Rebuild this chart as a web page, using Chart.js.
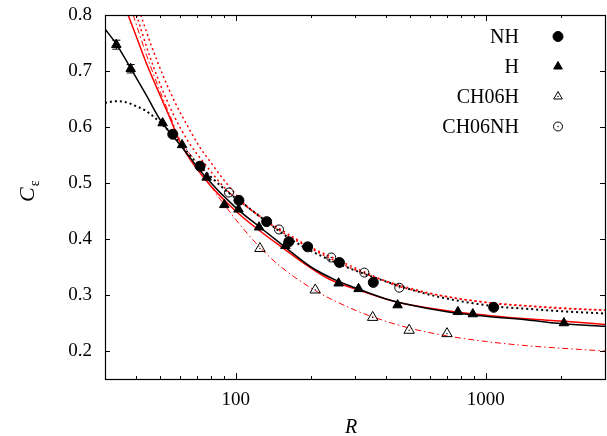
<!DOCTYPE html>
<html><head><meta charset="utf-8">
<script src="https://cdn.jsdelivr.net/npm/chart.js@4/dist/chart.umd.min.js"></script>
<style>
html,body{margin:0;padding:0;background:#fff;overflow:hidden;}
#wrap{width:607px;height:436px;overflow:hidden;position:relative;}
canvas{position:absolute;left:0;top:0;}
.pre{font-family:"Liberation Serif";position:absolute;left:-999px;top:0;}
</style></head><body>
<span class="pre">0.8 NH</span><span class="pre" style="font-style:italic">R C</span>
<div id="wrap"><canvas id="c" width="612" height="436"></canvas></div>
<script>
// ---------- data ----------
const seriesNames = ['NH', 'H', 'CH06H', 'CH06NH'];

const nhR = [56, 72, 103, 133, 163, 194, 260, 355, 1076];
const nhC = [0.587, 0.530, 0.469, 0.431, 0.395, 0.386, 0.358, 0.3225, 0.278];

const hR = [33.3, 38, 51, 61, 76.5, 90, 102.6, 124, 158, 258, 310, 444, 774, 888, 2055];
const hC = [0.747, 0.704, 0.607, 0.568, 0.510, 0.461, 0.453, 0.421, 0.388, 0.321, 0.311, 0.282, 0.270, 0.266, 0.250];
const hErr = [0.008, 0.0075, 0, 0, 0, 0, 0, 0, 0, 0, 0, 0, 0, 0, 0];

const ch06hR = [125, 208, 353, 494, 700];
const ch06hC = [0.383, 0.309, 0.260, 0.237, 0.231];

const ch06nhR = [94, 149, 241, 327, 451];
const ch06nhC = [0.483, 0.417, 0.367, 0.340, 0.313];

// fitted curves
const fitHBlackR = [30, 33.3, 38, 44, 50, 60, 75, 100, 125, 150, 200, 250, 300, 400, 500, 700, 1000, 1500, 2000, 3000];
const fitHBlackC = [0.775, 0.748, 0.705, 0.656, 0.612, 0.568, 0.513, 0.456, 0.421, 0.393, 0.350, 0.327, 0.313, 0.293, 0.282, 0.270, 0.262, 0.255, 0.249, 0.244];

const fitNHBlackR = [30, 33, 36.6, 39.6, 43.3, 47.9, 52, 56, 64, 72, 80, 94, 103, 133, 163, 194, 260, 355, 500, 644, 1076, 1500, 2000, 3000];
const fitNHBlackC = [0.643, 0.646, 0.644, 0.638, 0.630, 0.615, 0.600, 0.587, 0.555, 0.530, 0.510, 0.482, 0.469, 0.431, 0.402, 0.382, 0.355, 0.332, 0.310, 0.297, 0.280, 0.275, 0.271, 0.267];

const fitHRedR = [37.1, 40, 44, 50, 53.6, 61, 75, 100, 150, 235, 300, 444, 700, 1000, 1500, 2000, 3000];
const fitHRedC = [0.800, 0.762, 0.713, 0.655, 0.624, 0.566, 0.508, 0.450, 0.388, 0.329, 0.311, 0.287, 0.272, 0.264, 0.257, 0.2535, 0.2474];

const fitCH06HRedR = [38.9, 44, 50, 55, 60, 70, 80, 100, 125, 150, 208, 300, 353, 494, 700, 1000, 1500, 2000, 3000];
const fitCH06HRedC = [0.800, 0.728, 0.662, 0.617, 0.577, 0.535, 0.493, 0.435, 0.385, 0.352, 0.308, 0.273, 0.261, 0.241, 0.227, 0.217, 0.209, 0.205, 0.200];

const fitNHRedR = [40.1, 45, 50, 56.1, 65, 75, 90, 100, 130, 150, 200, 300, 500, 700, 1000, 2000, 3000];
const fitNHRedC = [0.800, 0.730, 0.675, 0.624, 0.572, 0.535, 0.492, 0.473, 0.435, 0.415, 0.383, 0.345, 0.312, 0.297, 0.287, 0.277, 0.273];

const fitCH06NHRedR = [41.7, 46, 51.4, 57, 63.4, 71.6, 80, 94, 115, 150, 200, 241, 327, 451, 644, 1076, 1500, 2000, 3000];
const fitCH06NHRedC = [0.800, 0.745, 0.690, 0.645, 0.606, 0.565, 0.535, 0.494, 0.452, 0.418, 0.385, 0.368, 0.341, 0.315, 0.300, 0.285, 0.280, 0.276, 0.273];

const xTickValues = [100, 1000];
const xMinorTicks = [40, 50, 60, 70, 80, 90, 200, 300, 400, 500, 600, 700, 800, 900, 2000];
const yTickValues = [0.2, 0.3, 0.4, 0.5, 0.6, 0.7, 0.8];

// ---------- helpers ----------
const pts = (xs, ys) => xs.map((x, i) => ({x: x, y: ys[i]}));
const FONT = '"Liberation Serif", "DejaVu Serif", serif';
const RED = '#ff0000';

function lineDS(xs, ys, color, width, dash) {
  return {type: 'line', data: pts(xs, ys), borderColor: color, borderWidth: width,
    borderDash: dash || [], pointRadius: 0, fill: false, cubicInterpolationMode: 'monotone', order: 2};
}
function markDS(label, xs, ys, style, r, filled) {
  return {type: 'line', label: label, data: pts(xs, ys), showLine: false, pointStyle: style,
    pointRadius: r, pointBorderWidth: 1, pointBackgroundColor: filled ? '#000' : 'rgba(255,255,255,0)',
    pointBorderColor: '#000', order: 1, openMarker: !filled};
}

const datasets = [
  markDS(seriesNames[0], nhR, nhC, 'circle', 5, true),
  markDS(seriesNames[1], hR, hC, 'triangle', 5.5, true),
  markDS(seriesNames[2], ch06hR, ch06hC, 'triangle', 6, false),
  markDS(seriesNames[3], ch06nhR, ch06nhC, 'circle', 4.5, false),
  lineDS(fitHBlackR, fitHBlackC, '#000', 1.5),
  lineDS(fitNHBlackR, fitNHBlackC, '#000', 2, [2, 3]),
  lineDS(fitHRedR, fitHRedC, RED, 1.5),
  lineDS(fitCH06HRedR, fitCH06HRedC, RED, 1, [6, 3, 1.5, 3]),
  lineDS(fitNHRedR, fitNHRedC, RED, 1.5, [2, 3]),
  lineDS(fitCH06NHRedR, fitCH06NHRedC, RED, 1.5, [2, 3])
];

const legendStyles = [
  {style: 'circle', r: 5, filled: true},
  {style: 'triangle', r: 5, filled: true},
  {style: 'triangle', r: 5, filled: false},
  {style: 'circle', r: 4.5, filled: false}
];

const decor = {
  id: 'decor',
  beforeDatasetsDraw(chart) {
    const ctx = chart.ctx, xs = chart.scales.x, ys = chart.scales.y;
    ctx.save();
    ctx.strokeStyle = '#000'; ctx.lineWidth = 1;
    hR.forEach((r, i) => {
      if (!hErr[i]) return;
      const px = xs.getPixelForValue(r);
      const y1 = ys.getPixelForValue(hC[i] - hErr[i]), y2 = ys.getPixelForValue(hC[i] + hErr[i]);
      ctx.beginPath();
      ctx.moveTo(px, y1); ctx.lineTo(px, y2);
      ctx.moveTo(px - 4, y1); ctx.lineTo(px + 4, y1);
      ctx.moveTo(px - 4, y2); ctx.lineTo(px + 4, y2);
      ctx.stroke();
    });
    ctx.restore();
  },
  afterDatasetsDraw(chart) {
    const ctx = chart.ctx, a = chart.chartArea, xs = chart.scales.x, ys = chart.scales.y;
    ctx.save();
    ctx.fillStyle = '#000';
    chart.data.datasets.forEach((ds, i) => {
      if (!ds.openMarker) return;
      chart.getDatasetMeta(i).data.forEach(p => { ctx.fillRect(p.x - 0.6, p.y - 0.6, 1.2, 1.2); });
    });
    ctx.strokeStyle = '#000'; ctx.lineWidth = 1.2;
    ctx.strokeRect(Math.round(a.left) + 0.5, Math.round(a.top) + 0.5, Math.round(a.right - a.left), Math.round(a.bottom - a.top));
    ctx.lineWidth = 1;
    ctx.beginPath();
    yTickValues.forEach(v => {
      const py = Math.round(ys.getPixelForValue(v)) + 0.5;
      ctx.moveTo(a.left, py); ctx.lineTo(a.left + 5, py);
      ctx.moveTo(a.right, py); ctx.lineTo(a.right - 5, py);
    });
    xTickValues.forEach(v => {
      const px = Math.round(xs.getPixelForValue(v)) + 0.5;
      ctx.moveTo(px, a.bottom); ctx.lineTo(px, a.bottom - 6);
      ctx.moveTo(px, a.top); ctx.lineTo(px, a.top + 6);
    });
    xMinorTicks.forEach(v => {
      const px = Math.round(xs.getPixelForValue(v)) + 0.5;
      ctx.moveTo(px, a.bottom); ctx.lineTo(px, a.bottom - 3);
      ctx.moveTo(px, a.top); ctx.lineTo(px, a.top + 3);
    });
    ctx.stroke();
    ctx.restore();
  },
  afterDraw(chart) {
    const ctx = chart.ctx;
    ctx.save();
    ctx.fillStyle = '#000'; ctx.strokeStyle = '#000';
    ctx.font = '20px ' + FONT;
    ctx.textAlign = 'right'; ctx.textBaseline = 'middle';
    seriesNames.forEach((n, i) => {
      const y = 36.5 + 30 * i;
      ctx.fillStyle = '#000';
      ctx.fillText(n, 519, y + 1);
      const st = legendStyles[i];
      ctx.fillStyle = st.filled ? '#000' : 'rgba(255,255,255,0)';
      ctx.lineWidth = 1;
      Chart.helpers.drawPoint(ctx, {pointStyle: st.style, radius: st.r, rotation: 0, borderWidth: 1}, 558, y);
      if (!st.filled) { ctx.fillStyle = '#000'; ctx.fillRect(557.4, y - 0.6, 1.2, 1.2); }
    });
    ctx.fillStyle = '#000';
    ctx.font = 'italic 20px ' + FONT;
    ctx.textAlign = 'center'; ctx.textBaseline = 'alphabetic';
    ctx.fillText('R', 351, 433);
    ctx.translate(34, 202);
    ctx.rotate(-Math.PI / 2);
    ctx.textAlign = 'left';
    ctx.font = 'italic 22px ' + FONT;
    ctx.fillText('C', 0, 0);
    const w = ctx.measureText('C').width;
    ctx.font = '14px ' + FONT;
    ctx.fillText('ε', w + 1, 5);
    ctx.restore();
  }
};

function draw() {
  new Chart(document.getElementById('c'), {
    type: 'line',
    data: {datasets: datasets},
    options: {
      responsive: false, animation: false,
      layout: {padding: {left: 0, right: 4, top: 15, bottom: 0}},
      plugins: {legend: {display: false}, tooltip: {enabled: false}},
      scales: {
        x: {type: 'logarithmic', min: 30, max: 3000,
          grid: {display: false, drawTicks: false}, border: {display: false},
          ticks: {font: {family: FONT, size: 19}, color: '#000', padding: 10, maxRotation: 0, autoSkip: false,
            callback: v => String(v)},
          afterBuildTicks: s => { s.ticks = xTickValues.map(v => ({value: v})); },
          afterFit: s => { s.height = 57; s.paddingLeft = 0; s.paddingRight = 0; s.paddingTop = 0; s.paddingBottom = 0; }
        },
        y: {type: 'linear', min: 0.15, max: 0.8,
          grid: {display: false, drawTicks: false}, border: {display: false},
          ticks: {font: {family: FONT, size: 19}, color: '#000', padding: 13,
            callback: v => Number(v).toFixed(1)},
          afterBuildTicks: s => { s.ticks = yTickValues.map(v => ({value: v})); },
          afterFit: s => { s.width = 105; s.paddingTop = 0; s.paddingBottom = 0; s.paddingLeft = 0; s.paddingRight = 0; }
        }
      }
    },
    plugins: [decor]
  });
}
Promise.all([
  document.fonts.load('19px "Liberation Serif"'),
  document.fonts.load('italic 20px "Liberation Serif"')
]).then(draw, draw);
</script>
</body></html>
